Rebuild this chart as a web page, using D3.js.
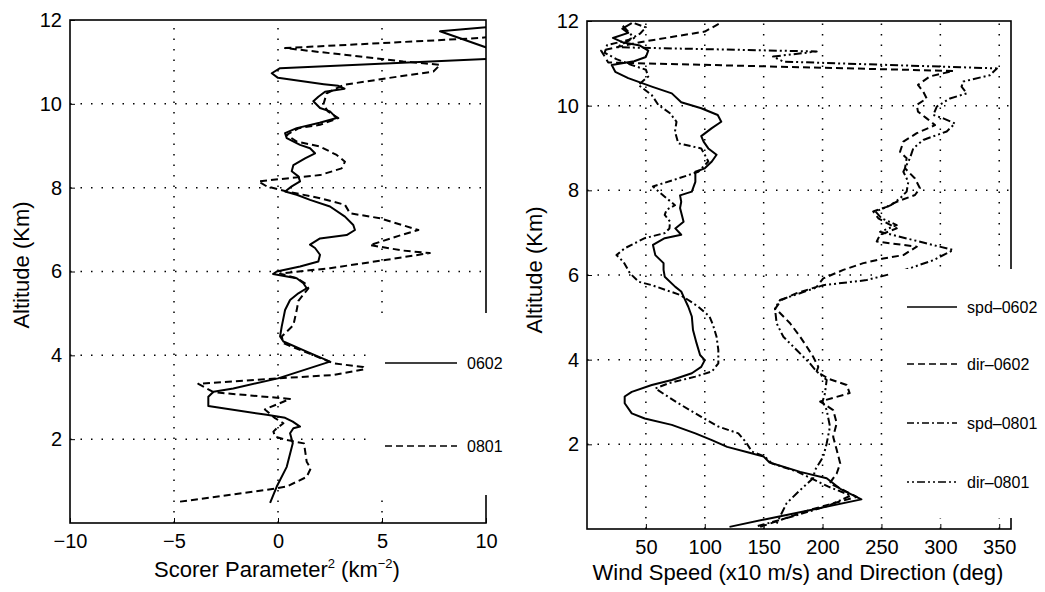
<!DOCTYPE html>
<html>
<head>
<meta charset="utf-8">
<script src="https://cdn.jsdelivr.net/npm/d3@7"></script>
<style>
  html, body { margin: 0; padding: 0; background: #fff; }
  svg { display: block; font-family: "Liberation Sans", Arial, sans-serif; }
</style>
</head>
<body>
<svg></svg>
<script>
const width = 1045;
const height = 592;

// altitude (km), scorer parameter^2 (km^-2)
const scorer0602 = [
  [0.48,-0.38],[0.87,-0.06],[1.34,0.42],[1.90,0.71],[2.14,0.58],[2.26,0.74],[2.30,1.06],[2.42,0.71],
  [2.51,0.34],[2.58,-0.54],[2.79,-3.35],[3.01,-3.35],[3.13,-3.1],[3.21,-2.15],[3.45,0.0],[3.85,2.5],
  [4.09,1.38],[4.33,0.26],[4.45,0.1],[4.69,0.18],[5.08,0.34],[5.32,0.58],[5.48,0.98],[5.6,1.38],
  [5.72,1.22],[5.84,0.9],[5.94,-0.24],[6.0,-0.06],[6.12,1.06],[6.24,1.94],[6.4,2.02],[6.56,1.78],
  [6.64,1.54],[6.79,2.02],[6.87,3.3],[6.99,3.7],[7.11,3.62],[7.31,3.22],[7.55,2.5],[7.71,1.54],
  [7.83,0.9],[7.91,0.34],[8.03,0.66],[8.15,1.06],[8.27,0.98],[8.39,0.66],[8.54,0.74],[8.7,1.3],
  [8.82,1.78],[8.94,1.54],[9.02,1.06],[9.18,0.42],[9.30,0.34],[9.42,0.9],[9.55,2.0],[9.66,2.82],
  [9.82,2.5],[9.9,2.02],[10.06,1.7],[10.17,1.94],[10.29,2.26],[10.36,3.2],[10.43,2.9],[10.47,2.2],
  [10.62,0.0],[10.73,-0.3],[10.85,0.1],[11.07,10.1],[11.2,13],[11.33,10.1],[11.73,7.79],[11.83,10.1],[11.9,12]
];
const scorer0801 = [
  [0.51,-4.71],[0.79,-0.54],[0.87,0.42],[1.10,1.38],[1.30,1.57],[1.46,1.38],[1.90,1.25],[1.98,0.42],
  [2.06,-0.14],[2.18,-0.22],[2.26,-0.06],[2.38,0.26],[2.50,-0.14],[2.71,-0.63],[2.96,0.58],[3.12,-3.1],
  [3.32,-3.83],[3.45,-0.06],[3.53,2.66],[3.67,4.18],[3.72,4.1],[3.81,2.66],[4.29,0.26],[4.45,0.18],
  [4.72,0.74],[5.08,0.9],[5.3,0.98],[5.6,1.46],[5.72,1.3],[5.84,0.9],[5.95,0.1],[6.08,2.5],
  [6.28,5.23],[6.44,7.3],[6.5,6.0],[6.63,4.42],[6.85,5.8],[6.99,6.75],[7.27,4.9],[7.39,3.46],
  [7.59,3.22],[7.75,2.02],[7.91,0.42],[8.03,-0.54],[8.15,-0.94],[8.22,0.42],[8.3,2.02],[8.46,3.06],
  [8.62,3.22],[8.78,2.82],[8.98,2.02],[9.1,0.9],[9.26,0.42],[9.42,1.0],[9.5,2.02],[9.66,2.9],
  [9.82,2.4],[9.98,2.18],[10.25,2.34],[10.45,3.14],[10.61,5.23],[10.77,7.47],[10.93,7.79],[11.01,6.02],
  [11.33,0.34],[11.57,9.7],[11.62,10.5]
];

// altitude (km), wind speed (x10 m/s) or direction (deg)
const spd0602 = [
  [0.05,121],[0.25,155],[0.45,190],[0.70,233],[0.95,215],[1.2,203.5],[1.35,181],[1.57,155],
  [1.71,150],[1.80,138],[1.94,119],[2.10,106],[2.26,92],[2.46,72],[2.61,49],[2.73,38],
  [2.97,32],[3.13,32],[3.24,38],[3.40,55],[3.52,72],[3.68,89],[3.83,97],[3.99,100],
  [4.11,96],[4.39,93],[4.70,90],[5.02,89],[5.25,86],[5.49,82],[5.61,80],[5.72,75],
  [5.96,66],[6.12,65],[6.28,65],[6.47,58],[6.71,56],[6.87,66],[6.95,80],[7.10,75],
  [7.26,82],[7.58,79],[7.73,80],[7.88,79],[7.97,89],[8.20,92],[8.44,92],[8.52,100],
  [8.68,106],[8.84,110],[8.99,103],[9.15,99],[9.28,97],[9.47,106],[9.62,114],[9.78,111],
  [9.94,97],[10.08,80],[10.29,72],[10.45,55],[10.65,35],[10.80,24],[10.96,21],[11.05,40],
  [11.15,50],[11.3,52],[11.42,45],[11.5,30],[11.6,22],[11.72,35],[11.82,30],[11.95,38]
];
const dir0602 = [
  [0.05,147],[0.21,164],[0.45,189],[0.76,229],[1.08,206],[1.31,212],[1.55,215],[1.87,212],
  [2.18,209],[2.50,212],[2.81,209],[3.01,198],[3.21,223],[3.40,220.5],[3.55,205],[3.72,195],
  [3.83,196.4],[4.07,192],[4.31,186.5],[4.54,181],[4.86,172.4],[5.21,160],[5.41,165],[5.57,178],
  [5.72,195],[5.92,200.6],[6.12,217.6],[6.28,234.6],[6.39,251.6],[6.47,268.6],[6.67,280],[6.79,246],
  [6.95,248.8],[7.10,263],[7.34,247.3],[7.50,243],[7.61,254.5],[7.73,263],[7.89,278.5],[8.05,282.7],
  [8.28,278.5],[8.52,270],[8.76,271.4],[8.91,265.8],[9.15,268.6],[9.35,280],[9.54,295.5],[9.70,288.4],
  [9.86,281],[10.02,280],[10.17,288.4],[10.33,285.5],[10.49,281],[10.69,291],[10.82,311],[11.02,18],
  [11.3,12],[11.5,45],[11.75,100],[11.95,113]
];
const spd0801 = [
  [0.07,145],[0.3,175],[0.55,205],[0.79,224],[1.0,205],[1.2,190],[1.35,179],[1.55,157],
  [1.71,151],[1.83,140],[2.05,135],[2.26,128.5],[2.42,111.5],[2.65,97],[2.97,77.5],[3.32,58],
  [3.44,69],[3.60,92],[3.72,106],[3.91,111.5],[4.23,111.5],[4.54,110],[4.82,107],[5.02,104],
  [5.25,94.5],[5.41,86],[5.53,79],[5.76,55],[5.84,44],[6.04,36.5],[6.31,31],[6.47,25],
  [6.63,32],[6.87,49],[6.99,66],[7.10,70],[7.26,70.5],[7.42,66],[7.54,67.6],[7.65,74.7],
  [7.85,66],[8.09,56],[8.28,77.5],[8.44,94.5],[8.68,103],[8.84,100],[8.99,97],[9.11,77.5],
  [9.39,74.7],[9.62,76],[9.82,70.5],[10.02,60.5],[10.25,55],[10.49,43.6],[10.69,52],[10.85,50],
  [10.96,38],[11.1,25],[11.25,15],[11.43,17],[11.55,35],[11.7,45],[11.85,50],[11.95,40]
];
const dir0801 = [
  [0.13,161],[0.61,169.5],[0.92,181],[1.2,192],[1.39,193.6],[1.71,200.6],[2.02,203.5],[2.42,206.3],
  [2.81,203.5],[3.01,200],[3.2,202],[3.52,203.5],[3.72,195],[3.91,189.3],[4.23,178],[4.54,166.7],
  [4.86,161],[5.21,159.6],[5.41,163.9],[5.57,180.8],[5.76,200.6],[5.88,237.5],[6.08,265.8],[6.16,274.2],
  [6.35,294],[6.59,311],[7.02,248.8],[7.18,263],[7.34,250],[7.50,245],[7.65,258],[7.81,265.8],
  [7.97,271.4],[8.20,272.8],[8.44,268.6],[8.76,274.2],[8.99,277],[9.19,285.5],[9.39,305.4],[9.58,312.5],
  [9.70,302.5],[9.78,294],[9.98,297],[10.17,308.2],[10.29,322.4],[10.45,318],[10.57,319.5],[10.72,342],
  [10.88,348],[11.04,166.7],[11.16,158],[11.28,195],[11.38,25],[11.6,40],[11.9,30]
];

const altTicks = [2, 4, 6, 8, 10, 12];
const scorerTicks = [-10, -5, 0, 5, 10];
const windTicks = [50, 100, 150, 200, 250, 300, 350];

const dashes = {
  solid: null,
  dashed: '7,4',
  dashdot: '7,3,2,3',
  dashdotdot: '2,3,2,3,8,3'
};

const svg = d3.select('svg')
  .attr('width', width)
  .attr('height', height);

const drawPanel = (cfg) => {
  const x = d3.scaleLinear().domain(cfg.xDomain).range(cfg.xRange);
  const y = d3.scaleLinear().domain([0, 12]).range(cfg.yRange);
  const g = svg.append('g');

  g.append('clipPath')
    .attr('id', cfg.id)
    .append('rect')
    .attr('x', cfg.xRange[0]).attr('y', cfg.yRange[1])
    .attr('width', cfg.xRange[1] - cfg.xRange[0])
    .attr('height', cfg.yRange[0] - cfg.yRange[1]);

  // dotted grid
  g.selectAll('.vgrid')
    .data(cfg.xTicks.filter(d => d > cfg.xDomain[0] && d < cfg.xDomain[1]))
    .join('line')
    .attr('x1', d => x(d)).attr('x2', d => x(d))
    .attr('y1', cfg.yRange[0]).attr('y2', cfg.yRange[1])
    .attr('stroke', '#000').attr('stroke-width', 1.5)
    .attr('stroke-dasharray', '1.5,9');
  g.selectAll('.hgrid')
    .data(altTicks.filter(d => d < 12))
    .join('line')
    .attr('x1', cfg.xRange[0]).attr('x2', cfg.xRange[1])
    .attr('y1', d => y(d)).attr('y2', d => y(d))
    .attr('stroke', '#000').attr('stroke-width', 1.5)
    .attr('stroke-dasharray', '1.5,9');

  const line = d3.line()
    .x(d => x(d[1]))
    .y(d => y(d[0]));

  const curves = g.append('g').attr('clip-path', `url(#${cfg.id})`);
  cfg.series.forEach(s => {
    curves.append('path')
      .datum(s.data)
      .attr('fill', 'none')
      .attr('stroke', '#000')
      .attr('stroke-width', 2)
      .attr('stroke-dasharray', dashes[s.style])
      .attr('stroke-linejoin', 'round')
      .attr('d', line);
  });

  // frame
  g.append('rect')
    .attr('x', cfg.xRange[0]).attr('y', cfg.yRange[1])
    .attr('width', cfg.xRange[1] - cfg.xRange[0])
    .attr('height', cfg.yRange[0] - cfg.yRange[1])
    .attr('fill', 'none').attr('stroke', '#000').attr('stroke-width', 1.6);

  // axes with small inward ticks
  const xAxis = d3.axisBottom(x).tickValues(cfg.xTicks)
    .tickSizeInner(-5).tickSizeOuter(0).tickPadding(9);
  const yAxis = d3.axisLeft(y).tickValues(altTicks)
    .tickSizeInner(-5).tickSizeOuter(0).tickPadding(8);

  const gx = g.append('g')
    .attr('transform', `translate(0, ${cfg.yRange[0]})`)
    .call(xAxis);
  const gy = g.append('g')
    .attr('transform', `translate(${cfg.xRange[0]}, 0)`)
    .call(yAxis);
  [gx, gy].forEach(a => {
    a.select('.domain').remove();
    a.selectAll('text').attr('font-size', cfg.tickFont).attr('fill', '#000')
      .attr('font-family', '"Liberation Sans", Arial, sans-serif');
    a.selectAll('line').attr('stroke', '#000');
  });
  gx.selectAll('text').attr('dy', '0.8em');

  // axis titles
  g.append('text')
    .attr('transform', `translate(${cfg.yTitleX}, ${cfg.yTitleY}) rotate(-90)`)
    .attr('text-anchor', 'middle')
    .attr('dominant-baseline', 'central')
    .attr('font-size', 22)
    .text('Altitude (Km)');
  const xt = g.append('text')
    .attr('x', cfg.xTitleX).attr('y', cfg.xTitleY)
    .attr('text-anchor', 'middle')
    .attr('font-size', 22);
  cfg.xTitle(xt);

  // legend box covers the frame and grid
  const lb = cfg.legendBox;
  g.append('rect')
    .attr('x', lb[0]).attr('y', lb[1]).attr('width', lb[2]).attr('height', lb[3])
    .attr('fill', '#fff');
  cfg.series.forEach((s, i) => {
    const ly = cfg.legendY[i];
    g.append('line')
      .attr('x1', cfg.legendX[0]).attr('x2', cfg.legendX[1])
      .attr('y1', ly).attr('y2', ly)
      .attr('stroke', '#000').attr('stroke-width', 1.6)
      .attr('stroke-dasharray', dashes[s.style]);
    g.append('text')
      .attr('x', cfg.legendX[2]).attr('y', ly)
      .attr('dominant-baseline', 'central')
      .attr('font-size', 16)
      .text(s.name);
  });
};

drawPanel({
  id: 'clipLeft',
  xDomain: [-10, 10], xRange: [70, 486], yRange: [523, 20],
  xTicks: scorerTicks, tickFont: 20,
  series: [
    { name: '0602', style: 'solid', data: scorer0602 },
    { name: '0801', style: 'dashed', data: scorer0801 }
  ],
  yTitleX: 21, yTitleY: 265,
  xTitleX: 277, xTitleY: 577,
  xTitle: t => {
    t.append('tspan').text('Scorer Parameter');
    t.append('tspan').attr('font-size', 13).attr('dy', -9).text('2');
    t.append('tspan').attr('dy', 9).text(' (km');
    t.append('tspan').attr('font-size', 13).attr('dy', -9).text('\u22122');
    t.append('tspan').attr('dy', 9).text(')');
  },
  legendBox: [371, 313, 160, 182],
  legendX: [385, 457, 467],
  legendY: [363, 446]
});

drawPanel({
  id: 'clipRight',
  xDomain: [0, 360], xRange: [587, 1011], yRange: [529, 21],
  xTicks: windTicks, tickFont: 20,
  series: [
    { name: 'spd\u20130602', style: 'solid', data: spd0602 },
    { name: 'dir\u20130602', style: 'dashed', data: dir0602 },
    { name: 'spd\u20130801', style: 'dashdot', data: spd0801 },
    { name: 'dir\u20130801', style: 'dashdotdot', data: dir0801 }
  ],
  yTitleX: 534, yTitleY: 270,
  xTitleX: 798, xTitleY: 580,
  xTitle: t => t.text('Wind Speed (x10 m/s) and Direction (deg)'),
  legendBox: [890, 269, 155, 249],
  legendX: [907, 957, 967],
  legendY: [307, 364, 423, 482]
});
</script>
</body>
</html>
